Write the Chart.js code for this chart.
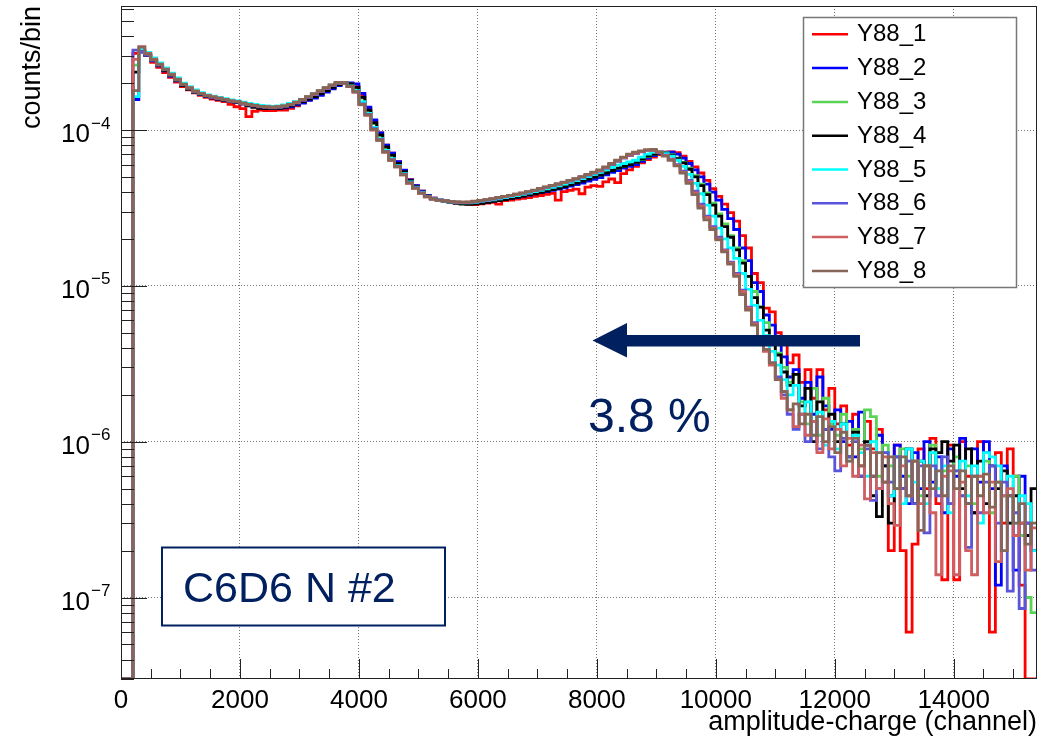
<!DOCTYPE html>
<html>
<head>
<meta charset="utf-8">
<script src="https://cdn.jsdelivr.net/npm/chart.js@4.4.1/dist/chart.umd.min.js"></script>
<style>
  html, body { margin: 0; padding: 0; background: #fff; }
  #wrap { width: 1058px; height: 742px; }
</style>
</head>
<body>
<div id="wrap"><canvas id="spectrumChart" width="1058" height="742"></canvas></div>
<script>
// bins of 100 channels starting at channel 0; values in units of 1e-6 counts/bin
const UNIT = 1e-6;
const BIN_WIDTH = 100;

const LABELS = ['Y88_1', 'Y88_2', 'Y88_3', 'Y88_4', 'Y88_5', 'Y88_6', 'Y88_7', 'Y88_8'];
const COLORS = ['#ff0000', '#0000ff', '#59d454', '#000000', '#00ffff', '#5954d9', '#cf5e61', '#876657'];

const Y88_1 = [
  0, 0, 310, 322, 300, 272, 252, 234, 218, 203,
  190, 181, 173, 167, 162, 158, 155, 152, 146, 141,
  137, 122, 132, 134, 133, 133, 134, 134, 138, 143,
  150, 156, 162, 170, 179, 188, 196, 201, 198, 190,
  168, 138, 115, 96, 80, 71, 62.5, 55, 48, 44,
  40.5, 38, 36.5, 35.5, 35, 34.5, 34.2, 33.8, 33.5, 33.2,
  33.6, 34, 34.4, 33.5, 35.2, 35.5, 36, 36.5, 36.8, 37.5,
  38, 38.6, 39.2, 35.5, 40.3, 41, 41.8, 39, 43, 44,
  43.5, 46.5, 48.5, 46, 52.5, 55.5, 58.5, 61.5, 64.5, 67,
  69.5, 71.5, 72.5, 71.5, 68, 63, 58, 53, 47.5, 42,
  37.5, 33.5, 29.5, 26, 21, 17.5, 12, 10.5, 7.2, 6.8,
  5, 4.2, 3.2, 3.6, 2.4, 2.9, 1.9, 2.9, 1.6, 2.2,
  1.3, 1.7, 0.95, 1.5, 0.7, 1.35, 0.9, 1.2, 0.55, 0.2,
  0.95, 0.2, 0.06, 0.22, 0.9, 0.5, 1.05, 0.4, 0.13, 0.95,
  0.13, 1.0, 0.6, 0.35, 1.0, 0.85, 0.06, 0.85, 0.3, 0.9,
  0.6, 0.12, 0, 0
];
const Y88_2 = [
  0, 0, 157, 316, 302, 278, 258, 240, 222, 207,
  193, 184, 175, 169, 164, 161, 158, 155, 152, 150,
  147, 144, 142, 140, 139, 138, 138, 139, 141, 145,
  149, 155, 160, 167, 175, 184, 193, 199, 201, 198,
  172, 140, 116, 96, 80, 71, 62.6, 55.3, 47.8, 44,
  40.5, 38, 36.5, 35.6, 35.1, 34.6, 34.3, 34, 33.8, 33.9,
  34.2, 34.6, 35, 35.4, 35.9, 36.4, 37, 37.6, 38.2, 38.9,
  39.6, 40.3, 41, 41.8, 42.6, 43.6, 44.6, 45.7, 47, 48.2,
  49.5, 51.5, 53.5, 55, 57, 58.5, 60, 63, 66, 68.5,
  70.5, 72, 72, 70, 66, 61, 55.5, 50, 45, 40,
  35.5, 31, 27, 23, 17.5, 14.5, 10.5, 9.2, 6.5, 5.6,
  4.3, 3.5, 2.6, 2.9, 1.9, 2.4, 1.5, 2.6, 1.7, 1.2,
  1.6, 1.0, 1.35, 0.8, 1.55, 0.95, 0.6, 1.1, 0.7, 0.45,
  0.95, 0.6, 0.4, 0.85, 0.5, 1.0, 0.55, 0.8, 0.35, 0.9,
  0.6, 1.05, 0.4, 0.9, 0.55, 1.0, 0.5, 0.12, 0.7, 0.45,
  0.15, 0.6, 0.3, 0.2
];
const Y88_3 = [
  0, 0, 261, 325, 304, 279, 260, 241, 224, 208,
  194, 184, 176, 170, 165, 162, 159, 156, 153, 151,
  148, 145, 143, 141, 140, 139, 140, 141, 144, 148,
  153, 159, 166, 173, 181, 190, 198, 201, 197, 186,
  160, 133, 110, 92, 77, 68, 60.5, 53.5, 47, 43.2,
  40, 37.7, 36.3, 35.5, 35.1, 34.6, 34.4, 34.2, 34.1, 34.3,
  34.6, 35, 35.4, 35.9, 36.4, 37, 37.6, 38.2, 38.9, 39.7,
  40.5, 41.3, 42, 42.9, 43.9, 45, 46.2, 47.5, 49, 50.3,
  51.5, 53.5, 55.5, 57, 58.5, 60, 62, 64.5, 67.5, 70,
  71.5, 71.5, 69.5, 66, 62, 57, 51, 45, 39.5, 34,
  29, 25, 21, 17.5, 14.5, 11.5, 9.2, 7.3, 5.8, 4.6,
  3.7, 3.0, 2.4, 2.7, 1.8, 1.3, 2.2, 1.1, 1.9, 1.3,
  1.1, 1.5, 0.8, 1.2, 0.9, 1.6, 1.45, 0.6, 0.95, 0.7,
  0.5, 0.9, 0.6, 0.75, 0.45, 0.7, 0.95, 0.5, 0.65, 0.4,
  0.8, 0.45, 0.7, 0.4, 0.6, 0.75, 0.35, 0.55, 0.45, 0.3,
  0.6, 0.25, 0.1, 0.08
];
const Y88_4 = [
  0, 0, 235, 322, 303, 279, 260, 241, 224, 208,
  193, 183, 175, 169, 164, 161, 158, 155, 152, 150,
  147, 143, 140, 138, 137, 137, 138, 140, 143, 147,
  152, 158, 164, 171, 179, 188, 196, 200, 198, 188,
  162, 134, 111, 93, 78, 69, 61, 54, 47.3, 43.5,
  40, 37.6, 36.2, 35.3, 34.8, 34.2, 33.8, 33.5, 33.4, 33.6,
  33.9, 34.3, 34.8, 35.3, 35.8, 36.4, 37, 37.6, 38.3, 39,
  39.8, 40.6, 41.4, 42.3, 43.3, 44.4, 45.6, 47, 48.4, 49.8,
  51.3, 53, 55, 57, 58.5, 60, 62, 65, 68, 70,
  71.5, 71, 69, 65.5, 61.5, 56, 50, 44, 38.5, 33,
  28, 24, 20.5, 17, 14, 11.5, 8.4, 7.3, 5.2, 4.6,
  3.6, 2.8, 2.3, 2.7, 1.7, 2.2, 1.0, 1.8, 1.2, 1.5,
  1.0, 1.3, 0.8, 1.15, 0.6, 1.0, 0.45, 0.33, 0.7, 0.3,
  0.8, 0.5, 0.9, 0.4, 0.75, 0.45, 0.9, 0.85, 1.0, 0.75,
  0.95, 0.5, 0.9, 0.35, 0.75, 0.4, 0.7, 0.5, 0.65, 0.3,
  0.45, 0.3, 0.25, 0.5
];
const Y88_5 = [
  0, 0, 164, 330, 315, 290, 270, 250, 232, 216,
  200, 190, 181, 174, 168, 165, 162, 159, 156, 154,
  151, 148, 146, 144, 143, 142, 143, 145, 148, 152,
  157, 163, 170, 178, 186, 194, 200, 199, 192, 179,
  152, 128, 104, 88, 74, 65.5, 59, 52.5, 46.5, 43,
  39.8, 37.5, 36.2, 35.5, 35, 34.5, 34.3, 34.1, 34.1, 34.4,
  34.8, 35.2, 35.7, 36.2, 36.8, 37.4, 38, 38.7, 39.4, 40.2,
  41, 41.9, 42.8, 43.8, 44.9, 46.1, 47.4, 48.8, 50.3, 51.9,
  53.5, 55.5, 57.5, 59.5, 61, 62.5, 64, 67, 70, 72,
  72, 70.5, 68, 64, 58.5, 52, 45.5, 39, 33, 28,
  23.5, 20, 17.5, 15, 12, 9.5, 7.5, 6, 4.8, 3.8,
  3.1, 2.5, 2.0, 2.3, 1.5, 1.8, 1.1, 1.55, 0.95, 1.35,
  0.9, 1.3, 0.75, 1.1, 0.85, 0.6, 1.0, 0.5, 0.85, 0.45,
  0.8, 0.4, 0.9, 0.55, 0.75, 0.4, 0.85, 0.5, 0.7, 0.35,
  0.65, 0.75, 0.45, 0.7, 0.3, 0.85, 0.8, 0.7, 0.45, 0.6,
  0.3, 0.45, 0.4, 0.2
];
const Y88_6 = [
  0, 0, 326, 318, 303, 280, 261, 243, 225, 209,
  195, 185, 176, 170, 165, 162, 159, 156, 153, 151,
  148, 145, 143, 141, 140, 139, 140, 142, 145, 149,
  155, 162, 169, 177, 185, 193, 200, 199, 190, 176,
  147, 126, 102, 87, 73, 64.5, 58.5, 52, 46, 42.6,
  39.5, 37.4, 36.2, 35.5, 35.1, 34.6, 34.4, 34.3, 34.3, 34.6,
  35, 35.5, 36, 36.6, 37.2, 37.8, 38.5, 39.2, 40, 40.9,
  41.8, 42.8, 43.8, 44.8, 45.9, 47.1, 48.4, 49.8, 51.4, 53,
  54.5, 57, 60, 63, 66, 68.5, 70.5, 72.5, 74, 74,
  72, 69, 65, 60, 54.5, 47.5, 40.5, 33.5, 28, 24,
  20.5, 17, 14.2, 12, 9.4, 7.3, 5.8, 4.7, 3.9, 3.2,
  2.6, 2.0, 1.5, 1.2, 1.5, 1.0, 1.35, 0.9, 1.2, 0.8,
  0.65, 1.05, 0.8, 1.0, 0.6, 0.9, 0.42, 0.5, 0.85, 0.55,
  0.8, 0.5, 0.75, 0.4, 0.7, 0.26, 0.7, 0.45, 0.8, 0.4,
  0.65, 0.45, 0.21, 0.6, 0.35, 0.55, 0.7, 0.3, 0.55, 0.11,
  0.35, 0.085, 0.3, 0.15
];
const Y88_7 = [
  0, 0, 284, 343, 310, 285, 265, 246, 228, 212,
  197, 187, 178, 171, 166, 163, 160, 157, 154, 152,
  149, 146, 144, 142, 141, 140, 141, 143, 146, 150,
  156, 163, 170, 178, 186, 194, 201, 200, 190, 175,
  145, 124, 100, 86, 72, 64, 58, 51.5, 45.5, 42.2,
  39.3, 37.2, 36, 35.4, 35.1, 34.6, 34.5, 34.4, 34.5, 34.8,
  35.2, 35.7, 36.2, 36.8, 37.4, 38, 38.7, 39.4, 40.2, 41,
  42, 43, 44, 45, 46.1, 47.3, 48.6, 50.1, 51.7, 53.4,
  55, 57.5, 60.5, 63.5, 66.5, 69, 71, 73, 74.5, 74,
  72, 68.5, 64.5, 59.5, 53.5, 46.5, 39.5, 32.5, 27.5, 23.5,
  20, 16.8, 14, 11.8, 9.2, 7.2, 5.7, 4.6, 3.8, 3.1,
  2.5, 1.9, 1.6, 1.25, 1.5, 1.1, 1.35, 0.85, 1.4, 0.9,
  1.2, 0.7, 1.05, 0.6, 0.95, 0.43, 0.85, 0.5, 0.8, 0.4,
  0.29, 0.7, 0.45, 0.75, 0.4, 0.7, 0.35, 0.14, 0.6, 0.65,
  0.14, 0.55, 0.2, 0.14, 0.6, 0.35, 0.55, 0.17, 0.45, 0.5,
  0.25, 0.3, 0.15, 0.28
];
const Y88_8 = [
  0, 0, 179, 340, 308, 283, 264, 245, 227, 211,
  196, 186, 177, 171, 166, 163, 160, 157, 154, 152,
  149, 146, 144, 142, 141, 140, 141, 143, 146, 151,
  157, 164, 171, 179, 187, 195, 202, 200, 190, 176,
  146, 125, 101, 86, 72.5, 64, 58, 51.5, 45.7, 42.4,
  39.4, 37.3, 36.1, 35.5, 35.2, 34.7, 34.6, 34.5, 34.6, 34.9,
  35.3, 35.8, 36.3, 36.9, 37.5, 38.1, 38.8, 39.5, 40.3, 41.2,
  42.2, 43.2, 44.2, 45.2, 46.3, 47.5, 48.8, 50.3, 52, 53.7,
  55.5, 58, 61, 64, 67, 70, 72, 73.5, 74.5, 75,
  72.5, 68, 64, 59, 53, 45.5, 38.5, 31.5, 26.5, 23,
  19.7, 16.5, 13.8, 11.5, 8.8, 7.0, 5.6, 4.6, 3.9, 3.2,
  2.5, 2.1, 1.6, 1.75, 1.3, 1.5, 1.1, 1.45, 1.0, 1.25,
  0.85, 1.15, 0.75, 1.05, 0.7, 0.95, 0.6, 0.85, 0.55, 0.8,
  0.5, 0.8, 0.45, 0.75, 0.27, 0.7, 0.5, 0.65, 0.45, 0.7,
  0.5, 0.65, 0.4, 0.6, 0.45, 0.62, 0.38, 0.55, 0.2, 0.45,
  0.3, 0.4, 0.22, 0.3
];
const SERIES = [Y88_1, Y88_2, Y88_3, Y88_4, Y88_5, Y88_6, Y88_7, Y88_8];

const X_MIN = 0, X_MAX = 15400;
const Y_MIN = 3e-8, Y_MAX = 6.25e-4;
const X_LABEL_TICKS = [0, 2000, 4000, 6000, 8000, 10000, 12000, 14000];
const X_MINOR_STEP = 500;
const Y_DECADES = [-4, -5, -6, -7];

const FONT = "'Liberation Sans', Arial, Helvetica, sans-serif";
const NAVY = '#002060';

// histogram -> step points at bin low edges (plus closing edge); empty bins sit on the frame bottom
function toSteps(vals) {
    const pts = vals.map((v, i) => ({ x: i * BIN_WIDTH, y: v > 0 ? v * UNIT : Y_MIN }));
    pts.push({ x: vals.length * BIN_WIDTH, y: pts[pts.length - 1].y });
    return pts;
}

const rootStyle = {
    id: 'rootStyle',
    afterDatasetsDraw(chart) {
        const { ctx, chartArea: a, scales: { x, y } } = chart;
        ctx.save();

        /* ---- frame ---- */
        ctx.strokeStyle = '#222';
        ctx.lineWidth = 1;
        ctx.strokeRect(a.left + 0.5, a.top + 0.5, a.right - a.left - 1, a.bottom - a.top - 1);

        /* ---- inner ticks ---- */
        ctx.beginPath();
        for (let v = X_MIN; v <= X_MAX; v += X_MINOR_STEP) {
            const px = Math.round(x.getPixelForValue(v)) + 0.5;
            const len = (v % 2000 === 0) ? 20 : 10;
            ctx.moveTo(px, a.bottom);
            ctx.lineTo(px, a.bottom - len);
        }
        for (let e = -8; e <= -4; e++) {
            for (let k = 1; k <= 9; k++) {
                const v = k * Math.pow(10, e);
                if (v < Y_MIN || v > Y_MAX) continue;
                const py = Math.round(y.getPixelForValue(v)) + 0.5;
                const len = k === 1 ? 26 : 13;
                ctx.moveTo(a.left, py);
                ctx.lineTo(a.left + len, py);
            }
        }
        ctx.stroke();

        /* ---- y tick labels 10^n ---- */
        ctx.fillStyle = '#000';
        Y_DECADES.forEach(e => {
            const py = y.getPixelForValue(Math.pow(10, e));
            ctx.font = '26px ' + FONT;
            ctx.textAlign = 'right';
            ctx.textBaseline = 'alphabetic';
            ctx.fillText('10', 90, py + 12);
            ctx.font = '17px ' + FONT;
            ctx.textAlign = 'left';
            ctx.fillText('\u2212' + Math.abs(e), 91, py - 1.5);
        });

        /* ---- legend ---- */
        const lg = { x: 803.5, y: 17.5, w: 213, h: 270 };
        ctx.fillStyle = '#fff';
        ctx.fillRect(lg.x, lg.y, lg.w, lg.h);
        ctx.strokeStyle = '#777';
        ctx.lineWidth = 1.5;
        ctx.strokeRect(lg.x, lg.y, lg.w, lg.h);
        ctx.font = '24px ' + FONT;
        ctx.textAlign = 'left';
        ctx.textBaseline = 'middle';
        chart.data.datasets.forEach((ds, i) => {
            const cy = 34.3 + i * 33.8;
            ctx.strokeStyle = ds.borderColor;
            ctx.lineWidth = 2.5;
            ctx.beginPath();
            ctx.moveTo(812, cy);
            ctx.lineTo(848, cy);
            ctx.stroke();
            ctx.fillStyle = '#000';
            ctx.fillText(ds.label, 857, cy + 0.5);
        });

        /* ---- annotations ---- */
        ctx.fillStyle = '#fff';
        ctx.fillRect(162, 547.5, 283, 78);
        ctx.strokeStyle = NAVY;
        ctx.lineWidth = 2;
        ctx.strokeRect(162, 547.5, 283, 78);
        ctx.fillStyle = NAVY;
        ctx.font = '43px ' + FONT;
        ctx.textAlign = 'left';
        ctx.textBaseline = 'alphabetic';
        ctx.fillText('C6D6 N #2', 183, 601.5);

        ctx.font = '48px ' + FONT;
        ctx.fillText('3.8 %', 588, 431.5);

        // arrow
        ctx.beginPath();
        ctx.moveTo(860, 335);
        ctx.lineTo(627, 335);
        ctx.lineTo(627, 323);
        ctx.lineTo(592.5, 340.5);
        ctx.lineTo(627, 357.5);
        ctx.lineTo(627, 346.5);
        ctx.lineTo(860, 346.5);
        ctx.closePath();
        ctx.fill();

        ctx.restore();
    }
};

const datasets = SERIES.map((vals, i) => ({
    label: LABELS[i],
    data: toSteps(vals),
    borderColor: COLORS[i],
    backgroundColor: COLORS[i],
    borderWidth: 2.8,
    stepped: true,
    pointRadius: 0,
    fill: false,
    tension: 0,
    clip: 0,
    order: SERIES.length - i
}));

new Chart(document.getElementById('spectrumChart'), {
    type: 'line',
    data: { datasets },
    options: {
        responsive: false,
        animation: false,
        devicePixelRatio: 1,
        layout: { padding: { top: 6, right: 21, left: 0, bottom: 0 } },
        plugins: {
            legend: { display: false },
            tooltip: { enabled: false }
        },
        scales: {
            x: {
                type: 'linear',
                min: X_MIN,
                max: X_MAX,
                afterBuildTicks: s => { s.ticks = X_LABEL_TICKS.map(v => ({ value: v })); },
                afterFit: s => { s.height = 63; },
                ticks: {
                    color: '#000',
                    font: { family: FONT, size: 26 },
                    padding: 6,
                    maxRotation: 0,
                    autoSkip: false,
                    callback: v => String(v)
                },
                grid: { color: '#777', lineWidth: 1, drawTicks: false },
                border: { display: false, dash: [1, 2] },
                title: {
                    display: true,
                    text: 'amplitude-charge (channel)',
                    align: 'end',
                    color: '#000',
                    font: { family: FONT, size: 27 },
                    padding: { top: 0, bottom: 3 }
                }
            },
            y: {
                type: 'logarithmic',
                min: Y_MIN,
                max: Y_MAX,
                afterBuildTicks: s => { s.ticks = Y_DECADES.map(e => ({ value: Math.pow(10, e) })); },
                afterFit: s => { s.width = 121; },
                ticks: { display: false },
                grid: { color: '#777', lineWidth: 1, drawTicks: false },
                border: { display: false, dash: [1, 2] },
                title: {
                    display: true,
                    text: 'counts/bin',
                    align: 'end',
                    color: '#000',
                    font: { family: FONT, size: 27 },
                    padding: { top: 16, bottom: 0 }
                }
            }
        }
    },
    plugins: [rootStyle]
});
</script>
</body>
</html>
